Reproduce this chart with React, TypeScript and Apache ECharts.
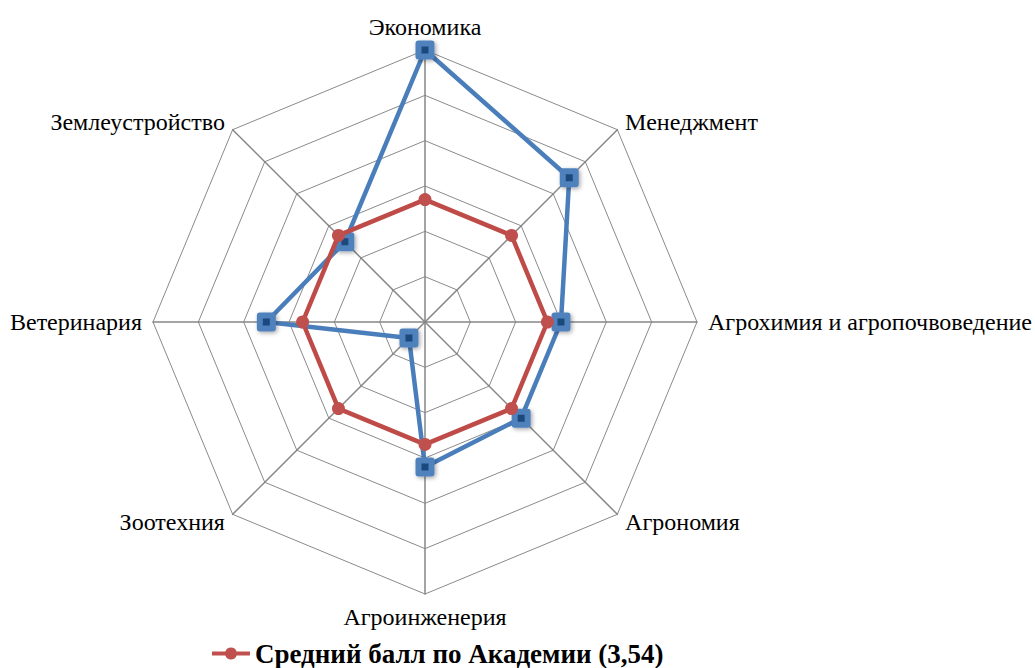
import React, { useEffect, useRef } from 'react';
import * as echarts from 'echarts';

// Categories in clockwise order starting from the top
const categories: string[] = [
  'Экономика',
  'Менеджмент',
  'Агрохимия и агропочвоведение',
  'Агрономия',
  'Агроинженерия',
  'Зоотехния',
  'Ветеринария',
  'Землеустройство',
];

const facultyName = 'Средний балл по факультету';
const facultyScores: number[] = [4.2, 3.9, 3.6, 3.6, 3.64, 3.1, 3.7, 3.5];

const academyName = 'Средний балл по Академии (3,54)';
const academyScores: number[] = [3.54, 3.54, 3.54, 3.54, 3.54, 3.54, 3.54, 3.54];

const axisMin = 3.0;
const axisMax = 4.2;
const splitCount = 6;

const FONT = 'Times New Roman, Liberation Serif, DejaVu Serif, serif';

export default function App() {
  const ref = useRef<HTMLDivElement>(null);

  useEffect(() => {
    if (!ref.current) return;
    const chart = echarts.init(ref.current, undefined, { renderer: 'svg' });
    // ECharts lays radar indicators counter-clockwise; reorder so they appear clockwise
    const order = [0, 7, 6, 5, 4, 3, 2, 1];
    const indicator = order.map((i) => ({ name: categories[i], min: axisMin, max: axisMax }));
    const pick = (arr: number[]) => order.map((i) => arr[i]);

    const cx = 425;
    const cy = 322;
    const R = 272;
    const gap = 11;

    // Axis names as text placed outside each spoke's end
    const nameTexts = categories.map((name, k) => {
      const th = Math.PI / 2 - (k * 2 * Math.PI) / categories.length;
      const c = Math.cos(th);
      const s = Math.sin(th);
      const x = cx + (R + gap) * c;
      const y = cy - (R + gap) * s;
      const align = Math.abs(c) < 0.25 ? 'center' : c > 0 ? 'left' : 'right';
      const vAlign = Math.abs(s) > 0.9 ? (s > 0 ? 'bottom' : 'top') : 'middle';
      return {
        type: 'text',
        x,
        y,
        silent: true,
        style: {
          text: name,
          fill: '#000',
          fontFamily: FONT,
          fontSize: 24,
          align,
          verticalAlign: vAlign,
        },
      };
    });

    const legendIcon =
      'path://M0 4 H13.34 A6 6 0 0 1 24.66 4 H38 V8 H24.66 A6 6 0 0 1 13.34 8 H0 Z';

    chart.setOption({
      animation: false,
      backgroundColor: '#ffffff',
      textStyle: { fontFamily: FONT },
      graphic: nameTexts,
      legend: {
        data: [academyName],
        left: 212,
        top: 640,
        padding: 0,
        icon: legendIcon,
        itemWidth: 38,
        itemHeight: 12,
        itemGap: 0,
        textStyle: { fontFamily: FONT, fontSize: 27, fontWeight: 'bold', color: '#000', lineHeight: 27 },
      },
      radar: {
        center: [cx, cy],
        radius: R,
        startAngle: 90,
        splitNumber: splitCount,
        shape: 'polygon',
        indicator,
        axisName: { show: false },
        axisLine: { lineStyle: { color: '#868686', width: 1.5 } },
        splitLine: { lineStyle: { color: '#8a8a8a', width: 1 } },
        splitArea: { show: false },
      },
      series: [
        {
          type: 'radar',
          name: facultyName,
          z: 2,
          symbol: 'rect',
          symbolSize: 13,
          lineStyle: { color: '#4A7EBB', width: 4.5 },
          itemStyle: {
            color: '#1F497D',
            borderColor: '#4F81BD',
            borderWidth: 6,
            borderJoin: 'round',
            shadowBlur: 4,
            shadowColor: 'rgba(0,0,0,0.35)',
            shadowOffsetX: 1.5,
            shadowOffsetY: 1.5,
          },
          data: [{ name: facultyName, value: pick(facultyScores) }],
        },
        {
          type: 'radar',
          name: academyName,
          z: 3,
          symbol: 'circle',
          symbolSize: 13,
          lineStyle: { color: '#BE4B48', width: 4.5 },
          itemStyle: { color: '#C0504D', borderWidth: 0 },
          data: [{ name: academyName, value: pick(academyScores) }],
        },
      ],
    });
    return () => chart.dispose();
  }, []);

  return (
    <div
      ref={ref}
      style={{ position: 'absolute', left: 0, top: 0, width: 1035, height: 668 }}
    />
  );
}
